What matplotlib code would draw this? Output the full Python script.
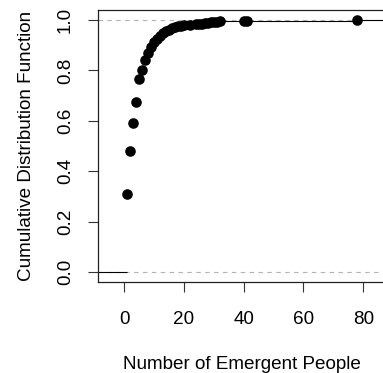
import numpy as np
import matplotlib
matplotlib.use("Agg")
import matplotlib.pyplot as plt

plt.rcParams['font.family'] = ['Liberation Sans', 'DejaVu Sans']

# Distinct observed counts and the empirical CDF level reached at each one
people = [1, 2, 3, 4, 5, 6, 7, 8, 9, 10, 11, 12, 13, 14, 15, 16, 17, 18, 19, 20,
          22, 24, 25, 26, 27, 28, 29, 30, 31, 32, 40, 41, 78]
cdf = [0.308, 0.480, 0.592, 0.676, 0.766, 0.800, 0.840, 0.870, 0.893, 0.912,
       0.926, 0.937, 0.948, 0.955, 0.962, 0.967, 0.972, 0.976, 0.978, 0.980,
       0.981, 0.983, 0.984, 0.985, 0.987, 0.989, 0.991, 0.993, 0.994, 0.995,
       0.997, 0.998, 1.000]
x_ticks = [0, 20, 40, 60, 80]
y_ticks = [0.0, 0.2, 0.4, 0.6, 0.8, 1.0]

W, H = 383, 373
fig = plt.figure(figsize=(W / 100, H / 100), dpi=100)

# stepfun-style limits: data range padded by 8% of the range, then 4% axis padding
x = np.asarray(people, dtype=float)
y = np.asarray(cdf, dtype=float)
dr = 0.08 * (x.max() - x.min())
lo, hi = x.min() - dr, x.max() + dr
pad = 0.04 * (hi - lo)
xlim = (lo - pad, hi + pad)
ylim = (-0.04, 1.04)

left, bottom, top = 98 / W, (H - 282) / H, (H - 10) / H
width = (386.4 - 98) / W
ax = fig.add_axes([left, bottom, width, top - bottom])
ax.set_xlim(*xlim)
ax.set_ylim(*ylim)

# reference lines at 0 and 1
for lvl in (0.0, 1.0):
    ax.axhline(lvl, color='#b3b3b3', lw=0.8, ls=(0, (4, 4)), zorder=1)

# horizontal steps of the ECDF
starts = np.concatenate([[xlim[0] - 10], x])
ends = np.concatenate([x, [xlim[1] + 10]])
levels = np.concatenate([[0.0], y])
ax.hlines(levels, starts, ends, colors='black', lw=0.8, zorder=2)
ax.plot(x, y, 'o', color='black', ms=6.6, mec='black', zorder=3)

ax.set_xticks(x_ticks)
ax.set_yticks(y_ticks)
ax.set_xticklabels([str(v) for v in x_ticks])
ax.set_yticklabels([f"{v:.1f}" for v in y_ticks], rotation=90, va='center')
ax.tick_params(axis='x', length=7.2, width=0.8, color='#333333',
               labelsize=13.6, pad=14)
ax.tick_params(axis='y', length=7.2, width=0.8, color='#333333',
               labelsize=13.6, pad=10)
for s in ax.spines.values():
    s.set_linewidth(0.9)
    s.set_color('#222222')

ax.set_xlabel('Number of Emergent People', fontsize=13.6, labelpad=20)
ax.set_ylabel('Cumulative Distribution Function', fontsize=13.6, labelpad=16)

fig.savefig('out.png', dpi=100)
